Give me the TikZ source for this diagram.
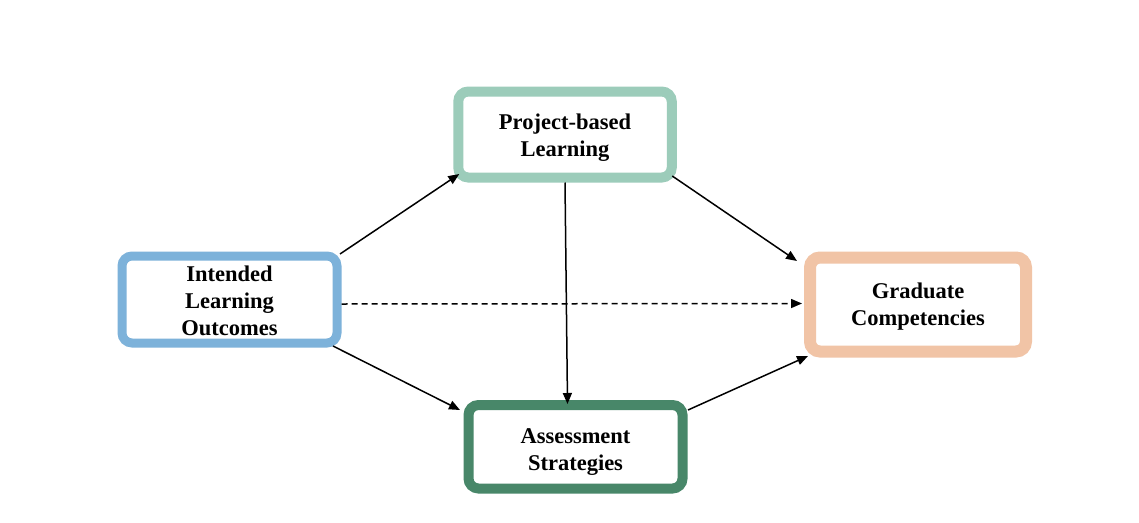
\documentclass[tikz,border=0pt]{standalone}
\usepackage{fontspec}
\setmainfont{Liberation Serif}
\usetikzlibrary{calc,arrows.meta,backgrounds}
\definecolor{iloblue}{RGB}{125,178,218}
\definecolor{pblgreen}{RGB}{156,204,186}
\definecolor{gcpeach}{RGB}{241,196,166}
\definecolor{asgreen}{RGB}{72,135,105}
\tikzset{
  box/.style={draw, fill=white, rounded corners=10pt, inner sep=0pt},
  txt/.style={align=center, inner sep=0pt, font=\fontsize{22.5}{27}\selectfont\bfseries},
  conn/.style={line width=1.5pt, -{Triangle[length=11pt,width=9pt]}},
  glowline/.style={draw=black, opacity=0.05, rounded corners=14pt},
}
\newcommand{\glowbox}[1]{%
  \foreach \w in {2,4,6,8,10,12,14,16}{%
    \draw[glowline, line width=\w pt] ($(#1.north west)+(0,-2)$) rectangle ($(#1.south east)+(0,-1)$);}}
\begin{document}
\begin{tikzpicture}[x=1pt,y=-1pt]
\useasboundingbox[fill=white] (0,0) rectangle (1139,522);
\node[box, line width=9pt, draw=iloblue, minimum width=215pt, minimum height=87pt] (ilo) at (229.5,299.5) {};
\node[box, line width=10pt, draw=pblgreen, minimum width=213.5pt, minimum height=86pt] (pbl) at (565,134.5) {};
\node[box, line width=12pt, draw=gcpeach, minimum width=216pt, minimum height=94pt] (gc) at (918,304.5) {};
\node[box, line width=10pt, draw=asgreen, minimum width=214pt, minimum height=83.5pt] (as) at (575.5,446.75) {};
\begin{scope}[on background layer]
  \glowbox{ilo}
  \glowbox{pbl}
  \glowbox{gc}
  \glowbox{as}
\end{scope}
\node[txt] (ilotxt) at ($(ilo.center)+(0,1.5)$) {Intended\\Learning\\Outcomes};
\node[txt] (pbltxt) at ($(pbl.center)+(0,3.5)$) {Project-based\\Learning};
\node[txt] (gctxt) at ($(gc.center)+(0,2.5)$) {Graduate\\Competencies};
\node[txt] (astxt) at ($(as.center)+(0,5)$) {Assessment\\Strategies};
\draw[conn] ($(ilo.north east)+(-1.5,2.5)$) -- ($(pbl.south west)+(6,-8.5)$);
\draw[conn] ($(pbl.south east)+(-4.5,-6.5)$) -- ($(gc.north west)+(-7,9.5)$);
\draw[conn] ($(ilo.south east)+(-8.5,-1.5)$) -- ($(as.north west)+(-3.5,10)$);
\draw[conn] ($(as.north east)+(0.5,10)$) -- ($(gc.south west)+(4,-1.5)$);
\draw[conn] (pbl.south) -- ($(as.north)+(-8,4)$);
\draw[conn, dash pattern=on 6pt off 4pt] ($(ilo.east)+(0,4.5)$) -- ($(gc.west)+(-2,-1)$);
\end{tikzpicture}
\end{document}
